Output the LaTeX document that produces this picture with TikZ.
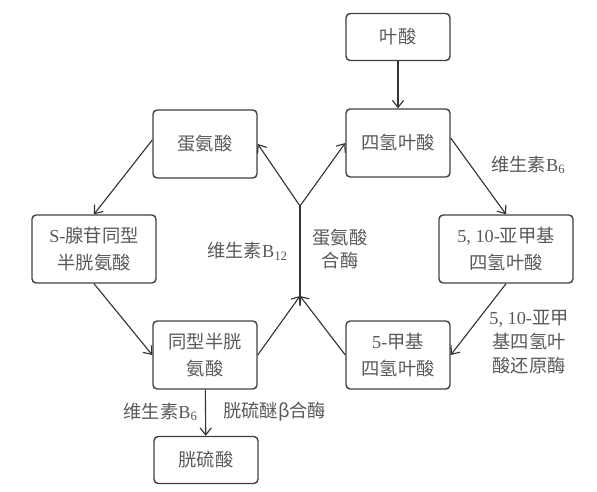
\documentclass[tikz,border=0pt]{standalone}
\usepackage{fontspec}
\setmainfont{Liberation Serif}
\newfontfamily\cjk{Noto Sans CJK SC}
\usetikzlibrary{arrows.meta}

\begin{document}
\begin{tikzpicture}[x=0.025cm, y=-0.025cm, line width=0.8pt, draw=black!80,
        >={Straight Barb[length=5pt, width=8pt]},
        box/.style={draw=black!75, line width=1pt, rounded corners=3pt, minimum width=2.6cm, minimum height=1.7cm,
            align=center, text=black!65, font=\fontsize{13}{19}\selectfont},
        lbl/.style={text=black!65, align=center, font=\fontsize{13}{17}\selectfont}]
        \useasboundingbox (0,0) rectangle (597,492);
        \node[box, minimum height=1.175cm] (fa) at (398,37) {\cjk 叶酸};
        \node[box] (thf) at (398,143) {\cjk 四氢叶酸};
        \node[box] (met) at (205,144) {\cjk 蛋氨酸};
        \node[box, minimum width=3.1cm] (sam) at (94,249) {S-{\cjk 腺苷同型}\\{\cjk 半胱氨酸}};
        \node[box, minimum width=3.35cm] (mthf10) at (506,249) {5, 10-{\cjk 亚甲基}\\{\cjk 四氢叶酸}};
        \node[box] (hcy) at (205,355) {{\cjk 同型半胱}\\{\cjk 氨酸}};
        \node[box] (mthf5) at (398,355) {5-{\cjk 甲基}\\{\cjk 四氢叶酸}};
        \node[box, minimum height=1.175cm] (cys) at (206,460) {\cjk 胱硫酸};
        \coordinate (j1) at (300,296);
        \coordinate (j2) at (300,206);

        \node[lbl, anchor=east] (b12) at (293,251) {{\cjk 维生素}B\textsubscript{12}};
        \node[lbl] (mets) at (340,249) {{\cjk 蛋氨酸}\\{\cjk 合酶}};
        \node[lbl, anchor=west] (b6a) at (486,165) {{\cjk 维生素}B\textsubscript{6}};
        \node[lbl] (mtr) at (529,342) {5, 10-{\cjk 亚甲}\\{\cjk 基四氢叶}\\{\cjk 酸还原酶}};
        \node[lbl, anchor=east] (b6b) at (203,412) {{\cjk 维生素}B\textsubscript{6}};
        \node[lbl, anchor=west] (cbs) at (218,412) {\cjk 胱硫醚β合酶};

        \draw[->] (fa) -- (thf);
        \draw[->] (thf.east) ++(0,-5) -- (mthf10.north);
        \draw[->] (mthf10.south) -- (mthf5.east);
        \draw[->] (met.west) ++(0,-4) -- (sam.north);
        \draw[->] (sam.south) -- (hcy.west);
        \draw[->] (hcy.east) -- (j1);
        \draw[->] (mthf5.west) -- (j1);
        \draw (j1) -- (j2);
        \draw[->] (j2) -- (met.east);
        \draw[->] (j2) -- (thf.west);
        \draw[->] (hcy) -- (cys);
    \end{tikzpicture}
\end{document}
